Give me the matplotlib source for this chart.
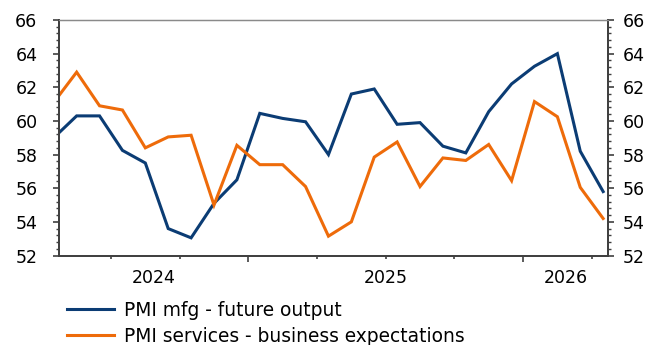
import matplotlib
matplotlib.use("Agg")
import matplotlib.pyplot as plt
from matplotlib.ticker import MultipleLocator, FixedLocator, NullFormatter
import pandas as pd

plt.rcParams['font.family'] = ['DejaVu Sans']
plt.rcParams['font.size'] = 12.5

# Monthly survey readings, Apr 2024 - Apr 2026
months = pd.date_range('2024-04-01', periods=25, freq='MS')
mfg_future_output = [59.0, 60.3, 60.3, 58.25, 57.5, 53.6, 53.05, 55.1, 56.5,
                     60.45, 60.15, 59.95, 58.0, 61.6, 61.9, 59.8, 59.9, 58.5,
                     58.1, 60.55, 62.2, 63.25, 64.0, 58.2, 55.8]
services_expectations = [61.1, 62.9, 60.9, 60.65, 58.4, 59.05, 59.15, 55.0,
                         58.55, 57.4, 57.4, 56.1, 53.15, 54.0, 57.85, 58.75,
                         56.1, 57.8, 57.65, 58.6, 56.45, 61.15, 60.25, 56.05,
                         54.2]
year_labels = ['2024', '2025', '2026']

BLUE = '#0B3C74'
ORANGE = '#EE6B0A'
SPINE = '#404040'
FS = 12.5

# month index on the x axis (0 = first month)
x = list(range(len(months)))
x_left, x_right = 0.23, 24.2

fig = plt.figure(figsize=(6.58, 3.45), dpi=100)
ax = fig.add_axes([0.0897, 0.2594, 0.9236 - 0.0897, 0.942 - 0.2594])

l1, = ax.plot(x, mfg_future_output, color=BLUE, lw=2.2,
              label='PMI mfg - future output', solid_joinstyle='miter')
l2, = ax.plot(x, services_expectations, color=ORANGE, lw=2.2,
              label='PMI services - business expectations', solid_joinstyle='miter')

ax.set_xlim(x_left, x_right)
ax.set_ylim(52, 66)

# y axis: left copy on ax, right copy on a twin
ax.yaxis.set_major_locator(MultipleLocator(2))
ax.yaxis.set_minor_locator(MultipleLocator(0.4))
ax.tick_params(axis='y', which='major', direction='out', length=4.5, width=1.2,
               color=SPINE, pad=11, labelsize=FS)
ax.tick_params(axis='y', which='minor', direction='out', length=2, width=1.0,
               color=SPINE)

ax2 = ax.twinx()
ax2.set_ylim(52, 66)
ax2.yaxis.set_major_locator(MultipleLocator(2))
ax2.yaxis.set_minor_locator(MultipleLocator(0.4))
ax2.tick_params(axis='y', which='major', direction='out', length=4.5, width=1.2,
                color=SPINE, pad=6, labelsize=FS)
ax2.tick_params(axis='y', which='minor', direction='out', length=2, width=1.0,
                color=SPINE)

# x axis: quarter ticks, longer ticks at year boundaries, year labels centred
quarter_bounds = [2.5 + 3 * k for k in range(8)]
year_bounds = [8.5, 20.5]
ax.xaxis.set_minor_locator(FixedLocator([q for q in quarter_bounds if q not in year_bounds]))
ax.xaxis.set_minor_formatter(NullFormatter())
ax.tick_params(axis='x', which='minor', direction='out', length=2.2, width=1.2,
               color=SPINE)
ax.xaxis.set_major_locator(FixedLocator(year_bounds))
ax.xaxis.set_major_formatter(NullFormatter())
ax.tick_params(axis='x', which='major', direction='out', length=4, width=1.2,
               color=SPINE)

year_centres = [(x_left + year_bounds[0]) / 2,
                (year_bounds[0] + year_bounds[1]) / 2,
                (year_bounds[1] + x_right) / 2]
for xc, lab in zip(year_centres, year_labels):
    ax.annotate(lab, xy=(xc, 0), xycoords=('data', 'axes fraction'),
                xytext=(0, -9.5), textcoords='offset points',
                ha='center', va='top', fontsize=FS)

for a in (ax, ax2):
    for side in ('left', 'right', 'bottom'):
        a.spines[side].set_color(SPINE)
        a.spines[side].set_linewidth(1.3)
    a.spines['top'].set_color('#8a8a8a')
    a.spines['top'].set_linewidth(0.9)

fig.legend(handles=[l1, l2], loc='upper left',
           bbox_to_anchor=(67 / 658, 1 - 300.5 / 345),
           frameon=False, borderpad=0, borderaxespad=0,
           handlelength=2.55, handletextpad=0.5, labelspacing=0.4,
           fontsize=13.4)

fig.savefig('out.png', dpi=100)
